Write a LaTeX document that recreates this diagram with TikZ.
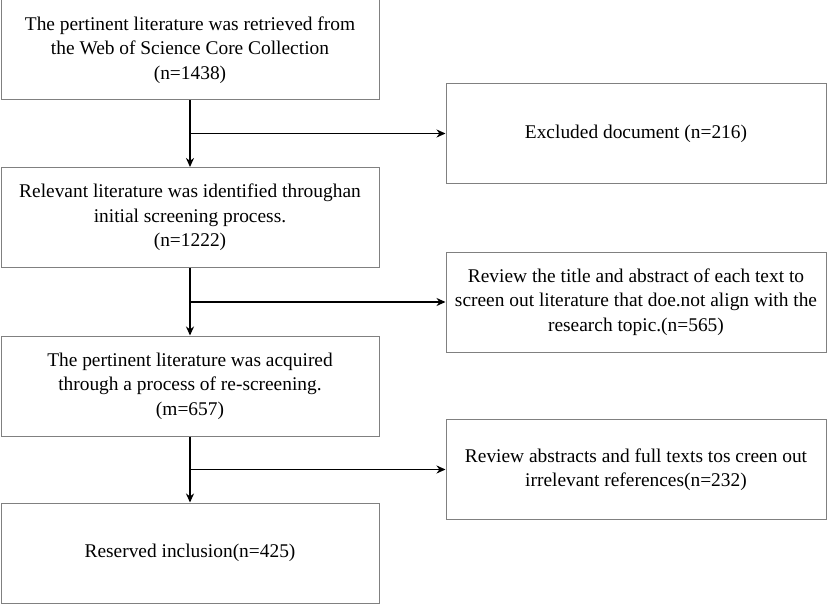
\documentclass[tikz,border=0pt]{standalone}
\usepackage{fontspec}
\setmainfont{Liberation Serif}
\usetikzlibrary{arrows.meta}

\begin{document}
\begin{tikzpicture}[x=1pt, y=-1pt,
      stage/.style ={rectangle, draw=black!50, line width=1pt, align=center,
                     minimum width=378pt, minimum height=100pt, inner sep=0pt,
                     font=\fontsize{19.4}{24.5}\selectfont},
      flow/.style ={line width=1.8pt, -{Stealth[length=9pt, width=8pt]}}]

   \useasboundingbox (0,0) rectangle (827,604);

   \node[stage] (A)  at (190,50)   {The pertinent literature was retrieved from\\the Web of Science Core Collection\\(n=1438)};
   \node[stage] (B)  at (190,217.5) {Relevant literature was identified throughan\\initial screening process.\\(n=1222)};
   \node[stage] (C)  at (190,386)  {The pertinent literature was acquired\\through a process of re-screening.\\(m=657)};
   \node[stage] (D)  at (190,553)  {Reserved inclusion(n=425)};

   \node[stage, minimum width=380pt] (R1) at (636,133.5) {Excluded document (n=216)};
   \node[stage, minimum width=380pt] (R2) at (636,302)   {Review the title and abstract of each text to\\screen out literature that doe.not align with the\\research topic.(n=565)};
   \node[stage, minimum width=380pt] (R3) at (636,469.5) {Review abstracts and full texts tos creen out\\irrelevant references(n=232)};

   \coordinate (a1) at (A.south |- R1.west);
   \coordinate (b1) at (B.south |- R2.west);
   \coordinate (c1) at (C.south |- R3.west);

   \draw[flow] (A) to  (B);
   \draw[flow] (B) to  (C);
   \draw[flow] (C) to  (D);

   \draw[flow] (a1) to  (R1);
   \draw[flow] (b1) to  (R2);
   \draw[flow] (c1) to  (R3);
 \end{tikzpicture}
\end{document}
